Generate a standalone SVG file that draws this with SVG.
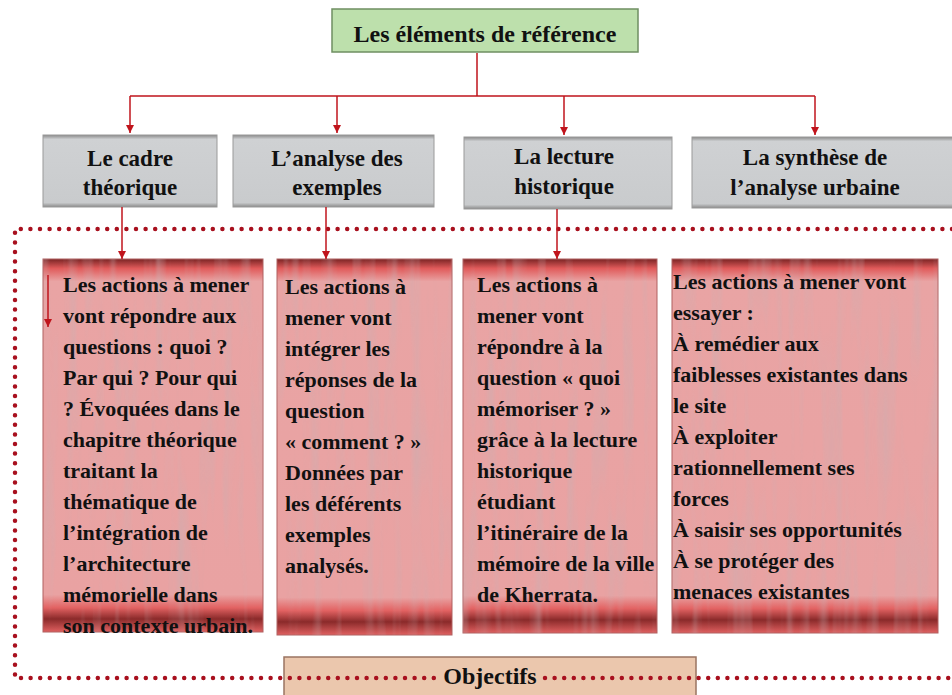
<svg xmlns="http://www.w3.org/2000/svg" width="952" height="695" viewBox="0 0 952 695">
<defs>
<style>
.t{font-family:'Liberation Serif',serif;font-weight:bold;fill:#111}
.hd{font-size:23px;text-anchor:middle}
.bd{font-size:22px}
.con{fill:none;stroke:#c0141c;stroke-width:1.5}
.pink{fill:url(#pinkG);stroke:#b06060;stroke-width:1}
.gray{fill:url(#grayG);stroke:#9a9a9a;stroke-width:1}
.dots{fill:none;stroke:#a8101e;stroke-width:4.5;stroke-linecap:round;stroke-dasharray:0 9.6}
</style>
<linearGradient id="pinkG" x1="0" y1="0" x2="0" y2="1">
<stop offset="0" stop-color="#7a2424"/>
<stop offset="0.025" stop-color="#e05a5a"/>
<stop offset="0.06" stop-color="#e9a4a4"/>
<stop offset="0.9" stop-color="#e9a2a2"/>
<stop offset="0.935" stop-color="#e26262"/>
<stop offset="0.965" stop-color="#8a2a2a"/>
<stop offset="1" stop-color="#e06060"/>
</linearGradient>
<linearGradient id="grayG" x1="0" y1="0" x2="0" y2="1">
<stop offset="0" stop-color="#8a8a8a"/>
<stop offset="0.06" stop-color="#cfd1d3"/>
<stop offset="0.94" stop-color="#c9cbcd"/>
<stop offset="1" stop-color="#8a8a8a"/>
</linearGradient>
<filter id="streak" x="0" y="0" width="1" height="1">
<feTurbulence type="fractalNoise" baseFrequency="0.09 0.006" numOctaves="2" seed="3"/>
<feColorMatrix type="matrix" values="0 0 0 0 0.55  0 0 0 0 0.45  0 0 0 0 0.47  0 0 0 1.6 -0.75"/>
</filter>
<marker id="ah" viewBox="0 0 10 10" refX="10" refY="5" markerWidth="8" markerHeight="8" markerUnits="userSpaceOnUse" orient="auto">
<path d="M0,0 L10,5 L0,10 z" fill="#c0141c"/>
</marker>
</defs>

<g id="title">
<rect x="332" y="9" width="306" height="43" fill="#bde0ac" stroke="#6f8f62" stroke-width="1.5"/>
<text class="t" font-family="Liberation Serif" x="485" y="42" font-size="24" text-anchor="middle">Les éléments de référence</text>
</g>

<g id="n1"><rect class="gray" x="43" y="135" width="174" height="72"/>
<text class="t hd" font-family="Liberation Serif" x="130" y="166">Le cadre</text><text class="t hd" font-family="Liberation Serif" x="130" y="195">théorique</text></g>
<g id="n2"><rect class="gray" x="233" y="135" width="201" height="72"/>
<text class="t hd" font-family="Liberation Serif" x="337" y="166">L’analyse des</text><text class="t hd" font-family="Liberation Serif" x="337" y="195">exemples</text></g>
<g id="n3"><rect class="gray" x="464" y="137" width="208" height="72"/>
<text class="t hd" font-family="Liberation Serif" x="564" y="164">La lecture</text><text class="t hd" font-family="Liberation Serif" x="564" y="194">historique</text></g>
<g id="n4"><rect class="gray" x="692" y="137" width="262" height="71"/>
<text class="t hd" font-family="Liberation Serif" x="815" y="165">La synthèse de</text><text class="t hd" font-family="Liberation Serif" x="815" y="195">l’analyse urbaine</text></g>

<g id="objectifs">
<rect x="284" y="657" width="412" height="45" fill="#ebc7ad" stroke="#9a7462" stroke-width="1.5"/>
</g>

<g id="frame">
<path class="dots" d="M952,229 H15 V678 H437"/>
<path class="dots" d="M545,678 H952"/>
</g>
<text class="t" font-family="Liberation Serif" x="490" y="684" font-size="24" text-anchor="middle">Objectifs</text>

<g id="p1"><rect class="pink" x="43" y="259" width="220" height="373"/>
<rect x="43" y="259" width="220" height="373" filter="url(#streak)" opacity="0.6"/>
<text class="t bd" font-family="Liberation Serif"><tspan x="63" y="292">Les actions à mener</tspan><tspan x="63" y="323">vont répondre aux</tspan><tspan x="63" y="354">questions : quoi ?</tspan><tspan x="63" y="385">Par qui ? Pour qui</tspan><tspan x="63" y="416">? Évoquées dans le</tspan><tspan x="63" y="447">chapitre théorique</tspan><tspan x="63" y="478">traitant la</tspan><tspan x="63" y="509">thématique de</tspan><tspan x="63" y="540">l’intégration de</tspan><tspan x="63" y="571">l’architecture</tspan><tspan x="63" y="602">mémorielle  dans</tspan><tspan x="63" y="633">son contexte urbain.</tspan></text>
</g>
<g id="p2"><rect class="pink" x="277" y="259" width="175" height="376"/>
<rect x="277" y="259" width="175" height="376" filter="url(#streak)" opacity="0.6"/>
<text class="t bd" font-family="Liberation Serif"><tspan x="285" y="294">Les actions à</tspan><tspan x="285" y="325">mener vont</tspan><tspan x="285" y="356">intégrer les</tspan><tspan x="285" y="387">réponses de la</tspan><tspan x="285" y="418">question</tspan><tspan x="285" y="449">« comment ? »</tspan><tspan x="285" y="480">Données par</tspan><tspan x="285" y="511">les déférents</tspan><tspan x="285" y="542">exemples</tspan><tspan x="285" y="573">analysés.</tspan></text>
</g>
<g id="p3"><rect class="pink" x="463" y="259" width="194" height="374"/>
<rect x="463" y="259" width="194" height="374" filter="url(#streak)" opacity="0.6"/>
<text class="t bd" font-family="Liberation Serif"><tspan x="477" y="292">Les actions à</tspan><tspan x="477" y="323">mener vont</tspan><tspan x="477" y="354">répondre à la</tspan><tspan x="477" y="385">question « quoi</tspan><tspan x="477" y="416">mémoriser ? »</tspan><tspan x="477" y="447">grâce à la lecture</tspan><tspan x="477" y="478">historique</tspan><tspan x="477" y="509">étudiant</tspan><tspan x="477" y="540">l’itinéraire  de la</tspan><tspan x="477" y="571">mémoire de la ville</tspan><tspan x="477" y="602">de Kherrata.</tspan></text>
</g>
<g id="p4"><rect class="pink" x="672" y="259" width="266" height="374"/>
<rect x="672" y="259" width="266" height="374" filter="url(#streak)" opacity="0.6"/>
<text class="t bd" font-family="Liberation Serif"><tspan x="673" y="289">Les actions à mener vont</tspan><tspan x="673" y="320">essayer :</tspan><tspan x="673" y="351">À remédier aux</tspan><tspan x="673" y="382">faiblesses existantes dans</tspan><tspan x="673" y="413">le site</tspan><tspan x="673" y="444">À exploiter</tspan><tspan x="673" y="475">rationnellement ses</tspan><tspan x="673" y="506">forces</tspan><tspan x="673" y="537">À saisir  ses opportunités</tspan><tspan x="673" y="568">À se protéger des</tspan><tspan x="673" y="599">menaces existantes</tspan></text>
</g>

<g id="connectors">
<path class="con" d="M477,53 V96 M130,96 H815"/>
<path class="con" d="M130,96 V133" marker-end="url(#ah)"/>
<path class="con" d="M337,96 V133" marker-end="url(#ah)"/>
<path class="con" d="M564,96 V135" marker-end="url(#ah)"/>
<path class="con" d="M815,96 V135" marker-end="url(#ah)"/>
<path class="con" d="M122,207 V259" marker-end="url(#ah)"/>
<path class="con" d="M326,207 V259" marker-end="url(#ah)"/>
<path class="con" d="M557,209 V259" marker-end="url(#ah)"/>
<path class="con" d="M48,275 V327" stroke="#d03040" stroke-width="1" marker-end="url(#ah)"/>
</g>
</svg>
